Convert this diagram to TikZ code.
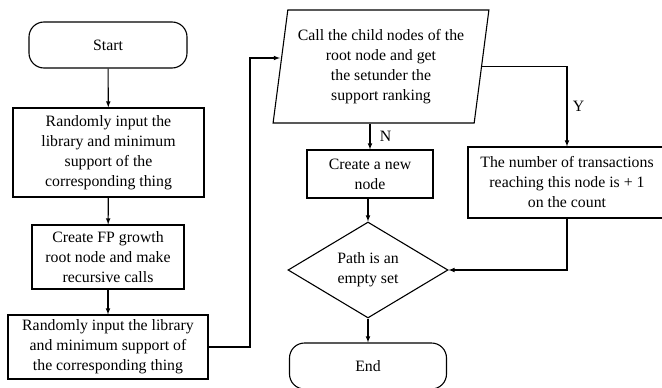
\documentclass[tikz,border=0pt]{standalone}
\usepackage{fontspec}
\setmainfont{Liberation Serif}
\usepackage{tikz}
\usetikzlibrary{shapes,arrows,positioning}
\usetikzlibrary{shapes.geometric,calc}
\tikzstyle{arrow} = [line width=1.1pt,->,>=latex]
\tikzstyle{line} = [line width=1.1pt]
\tikzstyle{process} = [draw,line width=1.1pt,align=center,inner sep=2pt]
\tikzstyle{terminal} = [process,rounded corners=15pt]
\tikzstyle{decision} = [draw,line width=1.1pt,diamond,align=center,inner sep=0pt,aspect=1.67]
\tikzstyle{io} = [draw,line width=1.1pt,trapezium,trapezium left angle=80,trapezium right angle=100,trapezium stretches=true,align=center,inner sep=0pt]
\newcommand{\txt}{\fontsize{15.8}{20}\selectfont}

\begin{document}
\begin{tikzpicture}[x=1pt,y=-1pt,font=\txt]
\useasboundingbox (0,0) rectangle (662,388);

\node[terminal,minimum width=158pt,minimum height=46pt] (start) at (108,45) {Start};
\node[process,minimum width=191pt,minimum height=89pt] (input1) at (108.5,152.5) {Randomly input the\\library and minimum\\support of the\\corresponding thing};
\node[process,minimum width=152pt,minimum height=64pt] (fptree) at (108,257) {Create FP growth\\root node and make\\recursive calls};
\node[process,minimum width=200pt,minimum height=64pt] (input2) at (108,347) {Randomly input the library\\and minimum support of\\the corresponding thing};

\node[io,minimum width=216pt,minimum height=113pt] (call) at (381,66.5) {Call the child nodes of the\\root node and get\\the setunder the\\support ranking};
\node[process,minimum width=126pt,minimum height=48pt] (newnode) at (370,174) {Create a new\\node};
\node[process,minimum width=198pt,minimum height=71pt] (count) at (567,182.5) {The number of transactions\\reaching this node is + 1\\on the count};
\node[decision,minimum width=160pt,minimum height=96pt] (empty) at (368,270) {Path is an\\empty set};
\node[terminal,minimum width=157pt,minimum height=46pt] (end) at (368,366) {End};

\coordinate (loop) at (250,58);

\draw [arrow] (start) -- (input1);
\draw [arrow] (input1) -- (fptree);
\draw [arrow] (fptree) -- (input2);
\draw [arrow] (input2.east) -| (loop) -- (loop -| call.west);
\draw [arrow] (newnode.north |- call.south) -- node[right,xshift=6pt]{N} (newnode.north);
\draw [arrow] (call.east) -| node[pos=0.75,right,xshift=2pt]{Y} (count.north);
\draw [arrow] (newnode.south -| empty.north) -- (empty.north);
\draw [arrow] (count.south) |- (empty.east);
\draw [arrow] (empty) -- (end);
\end{tikzpicture}
\end{document}
